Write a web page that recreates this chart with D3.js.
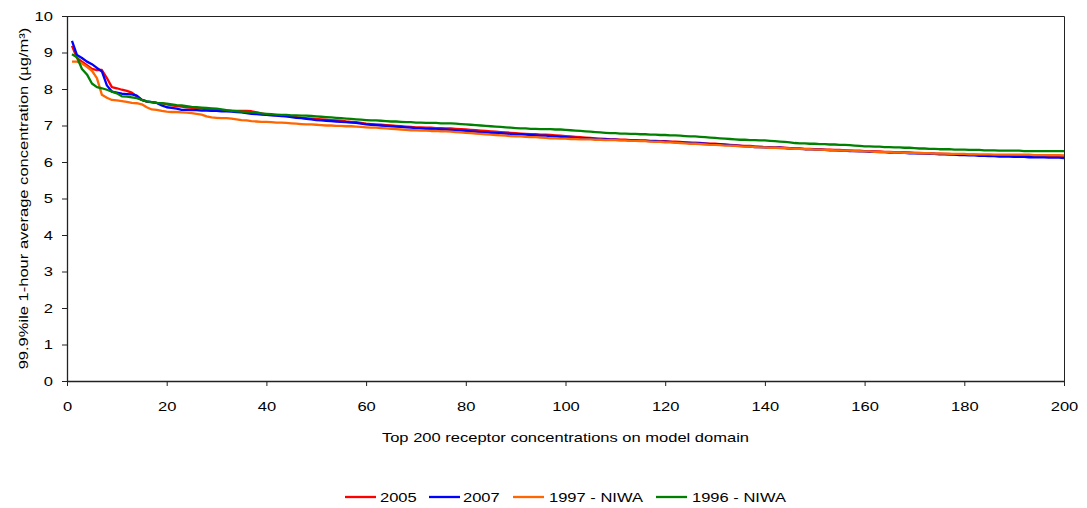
<!DOCTYPE html>
<html>
<head>
<meta charset="utf-8">
<script src="https://cdn.jsdelivr.net/npm/d3@7"></script>
<style>
  html, body { margin: 0; padding: 0; background: #fff; }
  svg { display: block; font-family: "Liberation Sans", Arial, sans-serif; }
</style>
</head>
<body>
<svg id="chart" width="1087" height="508"></svg>
<script>
const seriesNames = ["2005", "2007", "1997 - NIWA", "1996 - NIWA"];
const seriesColors = ["#FF0000", "#0000FF", "#FF6600", "#008000"];
const yTicks = [0,1,2,3,4,5,6,7,8,9,10];
const xTicks = [0,20,40,60,80,100,120,140,160,180,200];

const s2005 = [
9.18,8.85,8.75,8.65,8.55,8.52,8.52,8.30,8.05,8.02,
7.98,7.95,7.90,7.80,7.70,7.65,7.64,7.62,7.61,7.58,
7.55,7.53,7.52,7.50,7.48,7.47,7.46,7.45,7.44,7.43,
7.42,7.41,7.41,7.40,7.40,7.40,7.39,7.36,7.33,7.30,
7.29,7.28,7.27,7.26,7.25,7.23,7.21,7.20,7.19,7.18,
7.17,7.16,7.15,7.14,7.13,7.11,7.10,7.09,7.07,7.05,
7.04,7.03,7.02,7.01,7.00,6.99,6.98,6.97,6.96,6.95,
6.95,6.94,6.94,6.93,6.93,6.92,6.92,6.91,6.90,6.89,
6.88,6.87,6.86,6.85,6.84,6.83,6.82,6.81,6.80,6.79,
6.78,6.77,6.76,6.76,6.75,6.75,6.74,6.73,6.72,6.71,
6.70,6.69,6.68,6.67,6.66,6.65,6.64,6.63,6.62,6.62,
6.61,6.61,6.60,6.60,6.59,6.59,6.58,6.58,6.57,6.57,
6.56,6.56,6.55,6.54,6.53,6.53,6.52,6.51,6.50,6.50,
6.49,6.48,6.47,6.46,6.45,6.44,6.44,6.43,6.42,6.41,
6.41,6.40,6.40,6.39,6.38,6.37,6.37,6.36,6.36,6.35,
6.35,6.34,6.34,6.33,6.33,6.32,6.32,6.31,6.31,6.30,
6.30,6.29,6.29,6.28,6.28,6.27,6.27,6.26,6.26,6.25,
6.25,6.24,6.24,6.23,6.23,6.22,6.22,6.21,6.21,6.20,
6.20,6.20,6.19,6.19,6.19,6.18,6.18,6.18,6.18,6.17,
6.17,6.17,6.17,6.17,6.17,6.16,6.16,6.16,6.16,6.15];

const s2007 = [
9.32,8.93,8.85,8.75,8.68,8.58,8.48,8.10,7.93,7.90,
7.87,7.86,7.85,7.82,7.70,7.66,7.64,7.62,7.55,7.50,
7.48,7.46,7.43,7.43,7.42,7.42,7.41,7.41,7.40,7.40,
7.39,7.39,7.38,7.37,7.36,7.34,7.32,7.31,7.30,7.29,
7.28,7.27,7.26,7.25,7.23,7.21,7.20,7.18,7.17,7.15,
7.14,7.13,7.12,7.11,7.10,7.09,7.08,7.07,7.05,7.03,
7.02,7.01,7.00,6.99,6.98,6.97,6.96,6.95,6.94,6.93,
6.92,6.91,6.91,6.90,6.89,6.89,6.88,6.87,6.86,6.85,
6.84,6.83,6.82,6.81,6.80,6.79,6.79,6.78,6.77,6.76,
6.76,6.75,6.74,6.73,6.72,6.72,6.71,6.70,6.69,6.68,
6.67,6.66,6.65,6.65,6.64,6.63,6.62,6.62,6.61,6.61,
6.60,6.60,6.59,6.59,6.58,6.58,6.57,6.57,6.56,6.56,
6.55,6.54,6.54,6.53,6.52,6.51,6.51,6.50,6.49,6.49,
6.48,6.47,6.46,6.45,6.44,6.43,6.42,6.41,6.41,6.40,
6.40,6.39,6.39,6.38,6.37,6.36,6.36,6.35,6.35,6.34,
6.34,6.33,6.32,6.32,6.31,6.31,6.30,6.30,6.29,6.29,
6.28,6.28,6.27,6.27,6.26,6.26,6.25,6.25,6.24,6.24,
6.23,6.23,6.22,6.22,6.21,6.21,6.20,6.20,6.19,6.19,
6.18,6.18,6.17,6.17,6.16,6.16,6.15,6.15,6.15,6.14,
6.14,6.14,6.13,6.13,6.13,6.13,6.12,6.12,6.12,6.11];

const s1997 = [
8.75,8.75,8.70,8.61,8.50,8.30,7.84,7.76,7.70,7.69,
7.67,7.65,7.62,7.61,7.58,7.50,7.44,7.43,7.40,7.38,
7.37,7.37,7.36,7.35,7.34,7.32,7.30,7.25,7.22,7.21,
7.20,7.20,7.19,7.17,7.15,7.14,7.12,7.11,7.10,7.10,
7.09,7.08,7.08,7.07,7.06,7.05,7.04,7.03,7.03,7.02,
7.01,7.00,7.00,6.99,6.99,6.98,6.98,6.97,6.96,6.95,
6.94,6.94,6.93,6.92,6.91,6.90,6.89,6.88,6.87,6.87,
6.86,6.86,6.85,6.85,6.84,6.84,6.83,6.82,6.81,6.80,
6.79,6.78,6.77,6.76,6.75,6.74,6.73,6.72,6.71,6.70,
6.70,6.69,6.68,6.68,6.67,6.66,6.65,6.65,6.64,6.64,
6.63,6.63,6.62,6.62,6.62,6.61,6.61,6.60,6.60,6.60,
6.59,6.59,6.58,6.58,6.57,6.57,6.56,6.55,6.55,6.54,
6.54,6.53,6.52,6.51,6.50,6.50,6.49,6.48,6.47,6.47,
6.46,6.45,6.45,6.44,6.43,6.42,6.42,6.41,6.40,6.40,
6.39,6.39,6.38,6.38,6.37,6.36,6.36,6.35,6.35,6.34,
6.34,6.33,6.33,6.32,6.32,6.31,6.31,6.30,6.30,6.29,
6.29,6.28,6.28,6.27,6.27,6.26,6.26,6.25,6.25,6.25,
6.24,6.24,6.24,6.23,6.23,6.23,6.22,6.22,6.22,6.22,
6.21,6.21,6.21,6.21,6.21,6.20,6.20,6.20,6.20,6.20,
6.20,6.20,6.20,6.19,6.19,6.19,6.19,6.19,6.19,6.18];

const s1996 = [
8.95,8.87,8.55,8.40,8.15,8.05,8.02,7.98,7.93,7.88,
7.80,7.79,7.77,7.75,7.70,7.66,7.64,7.62,7.61,7.60,
7.58,7.56,7.55,7.53,7.51,7.50,7.49,7.48,7.47,7.46,
7.44,7.42,7.40,7.39,7.38,7.37,7.36,7.35,7.33,7.32,
7.31,7.30,7.29,7.29,7.28,7.28,7.27,7.27,7.26,7.25,
7.24,7.23,7.22,7.21,7.20,7.19,7.18,7.17,7.16,7.15,
7.14,7.14,7.13,7.12,7.11,7.11,7.10,7.09,7.09,7.08,
7.08,7.07,7.07,7.07,7.06,7.06,7.06,7.05,7.04,7.03,
7.02,7.01,7.00,6.99,6.98,6.97,6.96,6.95,6.94,6.93,
6.92,6.92,6.91,6.91,6.90,6.90,6.90,6.89,6.89,6.88,
6.87,6.86,6.85,6.84,6.83,6.82,6.81,6.80,6.79,6.79,
6.78,6.78,6.77,6.77,6.76,6.76,6.75,6.75,6.74,6.74,
6.73,6.73,6.72,6.71,6.70,6.70,6.69,6.68,6.67,6.66,
6.65,6.64,6.63,6.62,6.61,6.61,6.60,6.60,6.59,6.59,
6.58,6.57,6.56,6.55,6.54,6.52,6.51,6.51,6.50,6.50,
6.49,6.49,6.48,6.48,6.47,6.47,6.46,6.45,6.44,6.43,
6.43,6.42,6.42,6.41,6.41,6.40,6.40,6.39,6.39,6.38,
6.37,6.37,6.36,6.36,6.35,6.35,6.35,6.34,6.34,6.34,
6.33,6.33,6.33,6.32,6.32,6.32,6.31,6.31,6.31,6.31,
6.31,6.30,6.30,6.30,6.30,6.30,6.30,6.30,6.30,6.30];

const allSeries = [s2005, s2007, s1997, s1996];

const svg = d3.select("#chart");
const margin = {left: 67, top: 16, right: 23, bottom: 127};
const W = 1087, H = 508;
const iw = W - margin.left - margin.right;
const ih = H - margin.top - margin.bottom;
const FS = "13px";

const x = d3.scaleLinear().domain([0, 200]).range([margin.left, margin.left + iw]);
const y = d3.scaleLinear().domain([0, 10]).range([margin.top + ih, margin.top]);

// plot frame (top & right)
svg.append("path")
  .attr("d", `M${x(0)},${y(10)+0.5}H${x(200)+0.5}V${y(0)}`)
  .attr("fill", "none").attr("stroke", "#222").attr("stroke-width", 1);

// x axis
const xAxis = svg.append("g")
  .attr("transform", `translate(0,${y(0)})`)
  .call(d3.axisBottom(x).tickValues(xTicks).tickSize(5).tickPadding(16).tickSizeOuter(0));
// y axis
const yAxis = svg.append("g")
  .attr("transform", `translate(${x(0)},0)`)
  .call(d3.axisLeft(y).tickValues(yTicks).tickSize(5).tickPadding(9).tickSizeOuter(0));

[xAxis, yAxis].forEach(g => {
  g.selectAll("path").attr("stroke", "#222").attr("stroke-width", 1.3);
  g.selectAll("line").attr("stroke", "#222");
  g.selectAll("text").attr("fill", "#000").style("font-size", FS)
    .style("font-family", '"Liberation Sans", Arial, sans-serif');
});

// lines
const line = d3.line().x((d, i) => x(i + 1)).y(d => y(d));
allSeries.forEach((s, k) => {
  svg.append("path")
    .datum(s)
    .attr("d", line)
    .attr("fill", "none")
    .attr("stroke", seriesColors[k])
    .attr("stroke-width", 2.3)
    .attr("stroke-linejoin", "round");
});

// axis titles
svg.append("text")
  .attr("x", (x(0) + x(200)) / 2)
  .attr("y", 442)
  .attr("text-anchor", "middle")
  .style("font-size", FS)
  .text("Top 200 receptor concentrations on model domain");

svg.append("text")
  .attr("transform", `translate(28,${(y(0)+y(10))/2}) rotate(-90)`)
  .attr("text-anchor", "middle")
  .style("font-size", FS)
  .text("99.9%ile 1-hour average concentration (µg/m³)");

// legend
const legendItems = [
  {lx: 345, tx: 380},
  {lx: 429, tx: 463},
  {lx: 513, tx: 549},
  {lx: 656, tx: 692}
];
const lg = svg.append("g");
seriesNames.forEach((name, k) => {
  const it = legendItems[k];
  lg.append("line")
    .attr("x1", it.lx).attr("x2", it.lx + 31)
    .attr("y1", 497).attr("y2", 497)
    .attr("stroke", seriesColors[k]).attr("stroke-width", 2.3);
  lg.append("text")
    .attr("x", it.tx).attr("y", 502)
    .style("font-size", FS)
    .text(name);
});

// the reference font renders with wide glyphs: stretch every text horizontally
svg.selectAll("text").each(function() {
  const len = this.getComputedTextLength();
  this.setAttribute("textLength", (len * 1.27).toFixed(1));
  this.setAttribute("lengthAdjust", "spacingAndGlyphs");
});
</script>
</body>
</html>
